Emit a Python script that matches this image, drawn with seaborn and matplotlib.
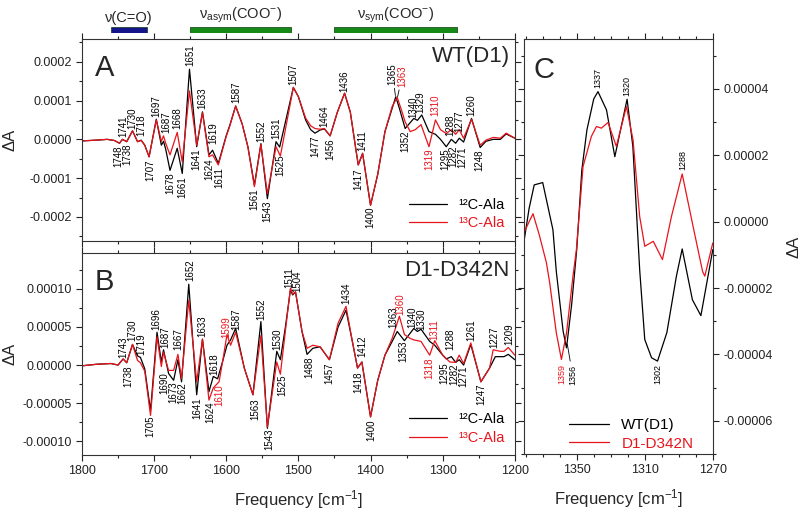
import numpy as np
import pandas as pd
import matplotlib
matplotlib.use("Agg")
import matplotlib.pyplot as plt
import matplotlib.transforms as mtransforms
import seaborn as sns
from matplotlib.ticker import MultipleLocator, FixedLocator, FormatStrFormatter

sns.set_style("ticks")
plt.rcParams['font.family'] = ['Liberation Sans', 'DejaVu Sans']
plt.rcParams['mathtext.fontset'] = 'custom'
plt.rcParams['mathtext.rm'] = 'Liberation Sans'
plt.rcParams['mathtext.it'] = 'Liberation Sans:italic'
plt.rcParams['mathtext.bf'] = 'Liberation Sans:bold'

# data, dA values in units of 1e-5
# panel A, WT(D1)
a_x12 = [1800, 1780, 1765, 1755, 1748, 1744, 1738, 1730, 1723, 1718, 1713, 1707, 1697, 1690, 1687, 1684,
         1678, 1668, 1661, 1651, 1641, 1633, 1624, 1619, 1611, 1600, 1595, 1587, 1578, 1570, 1561, 1552,
         1543, 1531, 1526, 1507, 1500, 1490, 1483, 1477, 1470, 1464, 1456, 1446, 1436, 1428, 1420, 1417,
         1411, 1400, 1390, 1380, 1370, 1365, 1360, 1352, 1340, 1335, 1329, 1319, 1310, 1303, 1295, 1288,
         1282, 1277, 1271, 1260, 1248, 1240, 1230, 1220, 1212, 1200]
a_y12 = [-0.4, -0.2, 0.0, -0.3, -1.0, 0.0, -0.6, 2.2, -0.6, -0.2, -1.5, -4.5, 5.2, -1.5, -0.5, -2.5,
         -8.0, -2.3, -8.8, 18.1, -1.9, 7.1, -4.0, -2.8, -6.2, 1.0, 3.7, 8.6, 4.0, -1.9, -11.8, -1.1,
         -15.3, -0.6, -2.0, 13.4, 11.0, 5.0, 2.5, 1.6, 2.4, 2.7, 0.9, 7.0, 11.9, 7.0, -3.0, -6.6,
         -3.6, -17.0, -9.0, 2.0, 8.0, 11.0, 8.0, 2.8, 5.4, 4.9, 6.3, 2.0, 1.3, 0.0, -1.9, 0.0,
         -1.0, 0.3, -0.7, 5.4, -2.1, -0.5, 0.0, 0.0, 1.4, 0.3]
a_x13 = [1800, 1780, 1765, 1755, 1748, 1744, 1738, 1730, 1723, 1718, 1713, 1707, 1697, 1690, 1687, 1684,
         1678, 1668, 1661, 1651, 1641, 1633, 1624, 1619, 1611, 1600, 1595, 1587, 1578, 1570, 1561, 1552,
         1543, 1531, 1525, 1507, 1500, 1490, 1483, 1477, 1470, 1464, 1456, 1446, 1436, 1428, 1420, 1417,
         1411, 1400, 1390, 1380, 1370, 1363, 1357, 1352, 1345, 1338, 1330, 1319, 1310, 1303, 1295, 1288,
         1282, 1277, 1271, 1260, 1248, 1240, 1230, 1220, 1212, 1200]
a_y13 = [-0.4, -0.2, 0.0, -0.3, -1.0, 0.0, -0.6, 2.2, -0.6, -0.3, -1.5, -4.5, 5.0, -0.5, 0.9, -1.0,
         -4.0, 1.8, -5.8, 12.5, -1.5, 6.9, -4.5, -4.0, -6.6, 0.8, 3.5, 8.6, 4.0, -2.0, -12.2, -1.3,
         -14.0, -1.9, -4.3, 13.4, 11.0, 5.5, 3.5, 2.8, 2.6, 2.8, 0.9, 7.0, 11.9, 7.0, -3.0, -6.6,
         -3.6, -17.0, -9.0, 2.0, 8.5, 10.8, 7.5, 4.5, 2.0, 2.5, 3.8, -1.9, 5.0, 2.5, 1.5, 2.5,
         1.3, 2.5, 0.3, 5.2, -1.5, -0.2, 0.5, 0.3, 1.6, 0.3]

# panel B, D1-D342N
b_x12 = [1800, 1780, 1760, 1750, 1743, 1738, 1730, 1723, 1719, 1713, 1705, 1696, 1690, 1687, 1680, 1673,
         1667, 1662, 1652, 1641, 1633, 1624, 1618, 1612, 1605, 1599, 1594, 1587, 1575, 1563, 1552, 1543,
         1530, 1525, 1518, 1511, 1508, 1504, 1495, 1488, 1480, 1470, 1457, 1445, 1434, 1425, 1418, 1412,
         1400, 1390, 1380, 1370, 1363, 1353, 1340, 1335, 1330, 1318, 1311, 1300, 1295, 1288, 1282, 1277,
         1271, 1261, 1247, 1235, 1227, 1215, 1209, 1200]
b_y12 = [-0.1, 0.1, 0.2, 0.0, 0.8, 0.3, 2.7, 1.2, 1.0, -0.5, -6.0, 4.3, 0.4, 2.0, -1.1, -2.0,
         0.7, -2.2, 10.6, -3.9, 3.4, -3.5, -1.5, -1.8, 0.5, 2.6, 3.3, 4.8, -0.4, -3.9, 5.7, -8.3,
         1.8, 0.7, 5.0, 9.9, 9.2, 9.6, 4.4, 1.4, 2.2, 2.4, 0.7, 5.0, 7.2, 3.0, -0.4, 0.4,
         -6.8, -2.0, 1.3, 3.1, 4.4, 3.2, 4.8, 4.4, 4.7, 3.1, 2.6, 1.3, 0.8, 1.1, 0.35, 0.7,
         0.0, 2.7, -2.2, -0.4, 1.1, 1.1, 1.4, 0.7]
b_x13 = [1800, 1780, 1760, 1750, 1743, 1738, 1730, 1723, 1719, 1713, 1705, 1696, 1690, 1687, 1680, 1673,
         1667, 1662, 1652, 1641, 1633, 1624, 1618, 1610, 1605, 1599, 1594, 1587, 1575, 1563, 1552, 1543,
         1530, 1525, 1518, 1511, 1508, 1504, 1495, 1488, 1480, 1470, 1457, 1445, 1434, 1425, 1418, 1412,
         1400, 1390, 1380, 1370, 1360, 1353, 1345, 1340, 1330, 1318, 1311, 1300, 1290, 1282, 1277, 1271,
         1261, 1247, 1235, 1230, 1220, 1215, 1209, 1200]
b_y13 = [-0.1, 0.1, 0.2, 0.0, 0.8, 0.3, 2.7, 0.6, 0.3, -0.8, -6.6, 3.7, -0.2, 1.7, -0.7, -0.7,
         1.4, -1.8, 8.5, -2.2, 3.4, -4.6, -3.0, -2.2, 0.5, 4.0, 2.6, 4.3, -0.4, -3.9, 3.9, -8.1,
         0.4, -1.2, 4.5, 10.1, 9.3, 9.6, 4.4, 2.2, 2.6, 2.4, 0.7, 5.5, 7.7, 3.0, -0.4, 0.4,
         -6.8, -2.0, 1.3, 3.5, 6.4, 4.0, 3.5, 3.3, 3.1, 1.3, 3.2, 1.3, 0.4, 0.35, 1.3, 0.2,
         2.9, -2.2, -0.4, 2.0, 1.8, 1.8, 2.3, 1.3]

# panel C, zoom 1380-1270
c_xwt = [1381, 1378, 1375, 1370, 1364, 1362, 1358, 1356, 1353, 1350, 1347, 1344, 1340, 1337.5, 1332.5,
         1327.6, 1320.4, 1317, 1313, 1310, 1306, 1302.5, 1297, 1291.4, 1288, 1282, 1277, 1270]
c_ywt = [-0.59, 0.4, 1.11, 1.18, -0.24, -1.5, -3.3, -3.8, -2.5, -0.84, 1.56, 2.77, 3.7, 3.92, 3.37,
         1.96, 3.69, 2.27, -1.44, -3.55, -4.1, -4.2, -3.34, -1.64, -0.82, -2.35, -2.83, -0.84]
c_xmut = [1381, 1378, 1375.7, 1372, 1367.8, 1365.9, 1362, 1359, 1356, 1352.2, 1350.2, 1346.3, 1341.4,
          1338.4, 1335.5, 1331.6, 1326.7, 1320.8, 1316.9, 1313, 1310, 1305, 1299.6, 1294.3, 1288,
          1281.6, 1276, 1274.7, 1270]
c_ymut = [-0.33, 0.0, 0.24, -0.4, -1.24, -1.84, -3.35, -4.15, -3.35, -1.64, -0.84, 1.66, 2.57,
          2.87, 2.82, 2.99, 2.27, 3.47, 2.47, 0.16, -0.74, -0.59, -1.14, 0.16, 1.44,
          -0.14, -1.5, -1.64, -0.64]

# band assignments on top
band_names = ['ν(C=O)', 'ν$_{\\mathrm{asym}}$(COO$^{-}$)', 'ν$_{\\mathrm{sym}}$(COO$^{-}$)']
band_start = [1760, 1650, 1450]
band_end = [1710, 1510, 1280]

# peak labels: text, position, y (1e-5), colour key, side
K, R = 'k', 'r'
a_peaks = [('1748', 1749.5, -1.5, K, 'dn'), ('1741', 1742.8, 0.7, K, 'up'), ('1738', 1737.5, -1.0, K, 'dn'),
           ('1730', 1730.3, 2.8, K, 'up'), ('1718', 1717.8, 0.9, K, 'up'), ('1707', 1705.8, -5.2, K, 'dn'),
           ('1697', 1696.6, 5.7, K, 'up'), ('1687', 1683.7, 1.7, K, 'up'), ('1678', 1677.2, -8.6, K, 'dn'),
           ('1668', 1668, 2.8, K, 'up'), ('1661', 1660.6, -9.6, K, 'dn'), ('1651', 1650.4, 18.8, K, 'up'),
           ('1641', 1641.2, -2.3, K, 'dn'), ('1633', 1632.9, 7.8, K, 'up'), ('1624', 1623.6, -4.9, K, 'dn'),
           ('1619', 1618, -1.2, K, 'up'), ('1611', 1609.8, -7.1, K, 'dn'), ('1587', 1585.8, 9.3, K, 'up'),
           ('1561', 1561.3, -12.7, K, 'dn'), ('1552', 1551.2, -0.6, K, 'up'), ('1543', 1543.3, -15.7, K, 'dn'),
           ('1531', 1530.4, 0.0, K, 'up'), ('1525', 1524.4, -4.0, K, 'dn'), ('1507', 1507.3, 14.0, K, 'up'),
           ('1477', 1476, 0.9, K, 'dn'), ('1464', 1463.5, 3.3, K, 'up'), ('1456', 1455.7, 0.3, K, 'dn'),
           ('1436', 1435.8, 12.3, K, 'up'), ('1417', 1416.4, -7.5, K, 'dn'), ('1411', 1411.4, -2.9, K, 'up'),
           ('1400', 1400.3, -17.4, K, 'dn'), ('1352', 1351.8, 2.4, K, 'dn'), ('1340', 1341.2, 5.6, K, 'up'),
           ('1329', 1331, 6.7, K, 'up'), ('1319', 1318.1, -2.3, R, 'dn'), ('1310', 1309.8, 6.0, R, 'up'),
           ('1295', 1296.5, -2.3, K, 'dn'), ('1288', 1289.5, 0.9, K, 'up'), ('1282', 1284.9, -1.5, K, 'dn'),
           ('1277', 1276.5, 2.0, K, 'up'), ('1271', 1273, -1.9, K, 'dn'), ('1260', 1260.4, 6.0, K, 'up'),
           ('1248', 1248.8, -2.6, K, 'dn')]
a_leaders = [('1365', 1369.5, 14.0, 1365.5, 11.3, K), ('1363', 1356, 13.6, 1362.5, 11.0, R)]

b_peaks = [('1743', 1742.8, 0.9, K, 'up'), ('1738', 1735.8, 0.0, K, 'dn'), ('1730', 1729.8, 3.1, K, 'up'),
           ('1719', 1718.3, 1.3, K, 'up'), ('1705', 1704.9, -6.6, K, 'dn'), ('1696', 1696.6, 4.6, K, 'up'),
           ('1690', 1686.4, -0.9, K, 'dn'), ('1687', 1685, 2.2, K, 'up'), ('1673', 1674, -2.2, K, 'dn'),
           ('1667', 1666.6, 2.0, K, 'up'), ('1662', 1661, -2.2, K, 'dn'), ('1652', 1650.4, 11.0, K, 'up'),
           ('1641', 1640.3, -4.2, K, 'dn'), ('1633', 1632.9, 3.7, K, 'up'), ('1624', 1622.7, -4.8, K, 'dn'),
           ('1618', 1617.2, -1.3, K, 'up'), ('1610', 1609.8, -2.6, R, 'dn'), ('1599', 1599.6, 3.5, R, 'up'),
           ('1587', 1586.7, 4.6, K, 'up'), ('1563', 1560.4, -4.4, K, 'dn'), ('1552', 1551.2, 5.9, K, 'up'),
           ('1543', 1540.5, -8.3, K, 'dn'), ('1530', 1529.5, 2.0, K, 'up'), ('1525', 1522.1, -1.3, K, 'dn'),
           ('1511', 1512.8, 10.1, K, 'up'), ('1504', 1502, 9.6, K, 'up'), ('1488', 1485.2, 1.1, K, 'dn'),
           ('1457', 1456.6, 0.35, K, 'dn'), ('1434', 1433.5, 8.0, K, 'up'), ('1418', 1417.4, -0.8, K, 'dn'),
           ('1412', 1411.4, 1.0, K, 'up'), ('1400', 1398.9, -7.2, K, 'dn'), ('1363', 1368.9, 4.8, K, 'up'),
           ('1360', 1358.7, 6.6, R, 'up'), ('1353', 1354.1, 3.2, K, 'dn'), ('1340', 1342.5, 4.8, K, 'up'),
           ('1330', 1330, 4.6, K, 'up'), ('1318', 1318.1, 1.0, R, 'dn'), ('1311', 1311.2, 3.3, R, 'up'),
           ('1295', 1297.3, 0.4, K, 'dn'), ('1288', 1289.5, 2.0, K, 'up'), ('1282', 1283.5, 0.2, K, 'dn'),
           ('1271', 1271.9, 0.0, K, 'dn'), ('1261', 1260.4, 3.2, K, 'up'), ('1247', 1246.5, -2.4, K, 'dn'),
           ('1227', 1229, 2.2, K, 'up'), ('1209', 1207.3, 2.6, K, 'up')]

c_peaks = [('1337', 1337.5, 4.02, K, 'up'), ('1320', 1320.4, 3.79, K, 'up'), ('1288', 1287.5, 1.56, K, 'up'),
           ('1359', 1359, -4.3, R, 'dn'), ('1302', 1302.6, -4.3, K, 'dn')]
c_leaders = [('1356', 1352.5, -4.3, 1355.5, -3.7, K)]

RED = '#e8141c'
COLS = {K: 'black', R: RED}

fig = plt.figure(figsize=(8, 5.14), dpi=100)
ax_a = fig.add_axes([0.1025, 0.532, 0.541, 0.393])
ax_b = fig.add_axes([0.1025, 0.1148, 0.541, 0.393])
ax_c = fig.add_axes([0.655, 0.1167, 0.236, 0.807])
ax_band = fig.add_axes([0.1025, 0.936, 0.541, 0.0118])


def draw_curve(ax, x, y, color, label):
    df = pd.DataFrame({'freq': x, 'dA': np.array(y) * 1e-5})
    sns.lineplot(data=df, x='freq', y='dA', ax=ax, color=color, lw=0.9, label=label,
                 sort=False, estimator=None)


def label_peaks(ax, peaks, size):
    for txt, x, y, col, side in peaks:
        ax.text(x, y * 1e-5, txt, rotation=90, ha='center',
                va='bottom' if side == 'up' else 'top', fontsize=size, color=COLS[col])


def label_leaders(ax, leaders, size):
    for txt, x, y, tx, ty, col in leaders:
        va = 'bottom' if y > ty else 'top'
        ax.annotate(txt, xy=(tx, ty * 1e-5), xytext=(x, y * 1e-5), rotation=90, ha='center', va=va,
                    fontsize=size, color=COLS[col],
                    arrowprops=dict(arrowstyle='-', color='black', lw=0.6, shrinkA=0, shrinkB=0))


def style_axes(ax, fmt, major, minor):
    ax.yaxis.set_major_locator(MultipleLocator(major))
    ax.yaxis.set_minor_locator(MultipleLocator(minor))
    ax.yaxis.set_major_formatter(FormatStrFormatter(fmt))
    ax.tick_params(which='both', direction='out', top=True, right=True, labelsize=9,
                   colors='#222222', width=0.8)
    ax.tick_params(which='major', length=4)
    ax.tick_params(which='minor', length=2.5)
    for sp in ax.spines.values():
        sp.set_linewidth(0.8)
        sp.set_color('#333333')


def colour_legend(leg):
    for text, line in zip(leg.get_texts(), leg.get_lines()):
        text.set_color(line.get_color())


# panel A
draw_curve(ax_a, a_x12, a_y12, 'black', '¹²C-Ala')
draw_curve(ax_a, a_x13, a_y13, RED, '¹³C-Ala')
ax_a.set_xlim(1800, 1200)
ax_a.set_ylim(-0.000261, 0.00026)
ax_a.xaxis.set_major_locator(MultipleLocator(100))
ax_a.xaxis.set_minor_locator(MultipleLocator(50))
style_axes(ax_a, '%.4f', 0.0001, 0.00005)
ax_a.tick_params(labelbottom=False)
ax_a.set_xlabel('')
ax_a.set_ylabel('ΔA', fontsize=12)
ax_a.yaxis.set_label_coords(-0.15, 0.5)
label_peaks(ax_a, a_peaks, 7)
label_leaders(ax_a, a_leaders, 7)
ax_a.text(0.03, 0.925, 'A', transform=ax_a.transAxes, fontsize=21, va='top', ha='left')
ax_a.text(0.988, 0.965, 'WT(D1)', transform=ax_a.transAxes, fontsize=16, va='top', ha='right')
leg = ax_a.legend(loc='lower right', frameon=False, fontsize=10.5, handlelength=2.6,
                  borderaxespad=0.3, labelspacing=0.3)
colour_legend(leg)

# panel B
draw_curve(ax_b, b_x12, b_y12, 'black', '¹²C-Ala')
draw_curve(ax_b, b_x13, b_y13, RED, '¹³C-Ala')
ax_b.set_xlim(1800, 1200)
ax_b.set_ylim(-0.000118, 0.000147)
ax_b.xaxis.set_major_locator(MultipleLocator(100))
ax_b.xaxis.set_minor_locator(MultipleLocator(50))
style_axes(ax_b, '%.5f', 0.00005, 0.000025)
ax_b.set_xlabel('Frequency [cm$^{-1}$]', fontsize=12, labelpad=8)
ax_b.set_ylabel('ΔA', fontsize=12)
ax_b.yaxis.set_label_coords(-0.15, 0.5)
label_peaks(ax_b, b_peaks, 7)
ax_b.text(0.03, 0.926, 'B', transform=ax_b.transAxes, fontsize=21, va='top', ha='left')
ax_b.text(0.988, 0.965, 'D1-D342N', transform=ax_b.transAxes, fontsize=16, va='top', ha='right')
leg = ax_b.legend(loc='lower right', frameon=False, fontsize=10.5, handlelength=2.6,
                  borderaxespad=0.3, labelspacing=0.3)
colour_legend(leg)

# panel C
draw_curve(ax_c, c_xwt, c_ywt, 'black', 'WT(D1)')
draw_curve(ax_c, c_xmut, c_ymut, RED, 'D1-D342N')
ax_c.set_xlim(1381, 1270)
ax_c.set_ylim(-0.00007, 0.000055)
ax_c.xaxis.set_major_locator(FixedLocator([1350, 1310, 1270]))
ax_c.xaxis.set_minor_locator(MultipleLocator(10))
style_axes(ax_c, '%.5f', 0.00002, 0.00001)
ax_c.tick_params(labelleft=False, labelright=True)
ax_c.yaxis.set_label_position('right')
ax_c.set_ylabel('ΔA', fontsize=12, rotation=90)
ax_c.yaxis.set_label_coords(1.39, 0.5)
ax_c.set_xlabel('Frequency [cm$^{-1}$]', fontsize=12, labelpad=8)
label_peaks(ax_c, c_peaks, 6.5)
label_leaders(ax_c, c_leaders, 6.5)
ax_c.text(0.048, 0.959, 'C', transform=ax_c.transAxes, fontsize=21, va='top', ha='left')
leg = ax_c.legend(loc='lower right', bbox_to_anchor=(0.97, -0.025), frameon=False, fontsize=11,
                  handlelength=2.6, labelspacing=0.3)
colour_legend(leg)

# band bars above panel A
band_colors = ['#14148c', '#168a16', '#168a16']
ax_band.set_xlim(1800, 1200)
ax_band.set_ylim(0, 1)
ax_band.axis('off')
trans = mtransforms.blended_transform_factory(ax_band.transData, ax_band.transAxes)
for name, s, e, col in zip(band_names, band_start, band_end, band_colors):
    ax_band.barh(0.5, width=e - s, left=s, height=1, color=col, edgecolor='#0b3b0b', lw=0.5)
    ax_band.text((s + e) / 2, 1.35, name, ha='center', va='bottom', fontsize=10.5, transform=trans)

fig.savefig('out.png', dpi=100)
